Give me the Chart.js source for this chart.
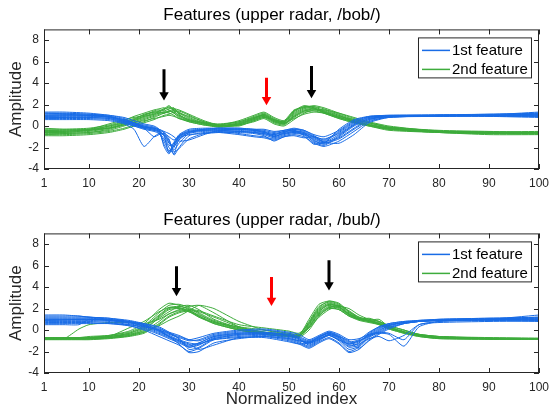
<!DOCTYPE html>
<html>
<head>
<meta charset="utf-8">
<script src="https://cdn.jsdelivr.net/npm/chart.js@4"></script>
<style>
  body { margin: 0; background: #fff; }
  #wrap { position: relative; width: 556px; height: 418px; }
  canvas { position: absolute; left: 0; }
</style>
</head>
<body>
<div id="wrap">
  <canvas id="topChart" width="556" height="200" style="top:0"></canvas>
  <canvas id="bottomChart" width="556" height="218" style="top:200px"></canvas>
</div>
<script>
// axis ticks
const xTicks = [1, 10, 20, 30, 40, 50, 60, 70, 80, 90, 100];
const yTicks = [-4, -2, 0, 2, 4, 6, 8];

// upper radar, /bob/
const xTop = [1, 5, 10, 14, 17, 19, 21, 23, 24, 25, 26, 27, 28, 30, 33, 36, 40, 43, 45, 47, 49, 51, 53, 55, 57, 60, 63, 66, 70, 80, 90, 100];
const blueTop = [
  [1.2, 1.2, 1.1, 0.9, 0.5, 0.2, 0.0, -0.2, -0.4, -0.9, -2.5, -1.8, -0.9, -0.4, -0.3, -0.3, -0.4, -0.5, -0.6, -0.8, -0.6, -0.5, -0.7, -1.3, -1.7, -0.9, 0.1, 0.7, 0.9, 1.0, 1.1, 1.1],
  [1.0, 1.0, 1.0, 0.8, 0.4, 0.1, -0.2, -0.4, -0.6, -1.2, -2.0, -2.6, -1.2, -0.6, -0.4, -0.4, -0.5, -0.6, -0.8, -1.1, -0.8, -0.6, -0.8, -1.5, -1.8, -1.0, 0.0, 0.6, 0.9, 0.95, 1.0, 1.0],
  [0.8, 0.8, 0.8, 0.7, 0.3, 0.0, -0.3, -0.5, -0.7, -1.4, -2.3, -2.0, -1.0, -0.5, -0.3, -0.2, -0.2, -0.3, -0.4, -0.6, -0.4, -0.3, -0.5, -1.0, -1.4, -0.6, 0.3, 0.8, 0.9, 0.9, 0.9, 0.8],
  [1.1, 1.1, 1.0, 0.9, 0.6, 0.3, 0.1, -0.1, -0.3, -0.6, -1.5, -2.2, -1.6, -0.7, -0.5, -0.5, -0.7, -0.9, -1.0, -1.2, -0.9, -0.7, -0.8, -1.2, -1.6, -1.2, -0.3, 0.5, 0.8, 1.0, 1.0, 1.2],
  [0.6, 0.6, 0.6, 0.5, 0.2, -0.3, -1.9, -1.0, -0.7, -0.8, -1.6, -1.9, -1.3, -0.6, -0.4, -0.3, -0.3, -0.4, -0.5, -0.7, -0.5, -0.4, -0.6, -1.0, -1.2, -0.7, 0.2, 0.8, 0.95, 1.0, 0.9, 0.9],
  [0.9, 0.9, 0.9, 0.8, 0.5, 0.2, -0.1, -0.3, -0.5, -1.7, -2.4, -1.5, -0.8, -0.3, -0.2, -0.2, -0.3, -0.4, -0.5, -1.0, -0.6, -0.3, -0.4, -0.9, -1.3, -0.5, 0.4, 0.9, 1.0, 1.05, 1.1, 1.2],
  [1.3, 1.3, 1.2, 1.0, 0.7, 0.3, -0.2, -1.0, -0.8, -0.7, -1.2, -2.7, -2.0, -0.9, -0.6, -0.6, -0.8, -1.0, -1.1, -1.3, -1.0, -0.8, -1.0, -1.6, -1.9, -1.4, -0.5, 0.4, 0.85, 0.95, 1.0, 1.1],
  [0.7, 0.7, 0.7, 0.6, 0.3, 0.0, -0.2, -0.4, -0.5, -0.9, -1.8, -1.6, -0.9, -0.5, -0.4, -0.4, -0.5, -0.6, -0.7, -0.9, -0.7, -0.6, -0.7, -1.1, -1.5, -0.8, 0.1, 0.7, 0.85, 0.9, 0.95, 0.9],
  [1.0, 1.05, 1.0, 0.85, 0.5, 0.2, -0.1, -0.3, -0.5, -0.8, -1.3, -2.4, -2.1, -1.2, -0.7, -0.5, -0.5, -0.6, -0.7, -1.0, -0.7, -0.5, -0.6, -1.4, -1.6, -0.3, 0.6, 0.9, 1.0, 1.0, 1.05, 1.3],
  [0.9, 0.95, 0.95, 0.9, 0.6, 0.3, 0.0, -0.2, -0.3, -0.5, -0.7, -1.0, -1.4, -1.3, -0.8, -0.4, -0.3, -0.4, -0.6, -0.8, -0.5, -0.4, -0.9, -1.7, -1.5, -1.1, -0.2, 0.6, 0.9, 1.0, 1.0, 1.0],
  [1.2, 1.15, 1.1, 1.0, 0.8, 0.5, 0.2, 0.0, -0.3, -1.9, -2.6, -1.7, -1.1, -0.8, -0.7, -0.6, -0.6, -0.7, -0.9, -1.4, -1.0, -0.9, -1.1, -1.0, -1.5, -1.6, -0.8, 0.3, 0.8, 0.95, 1.0, 1.1],
  [0.75, 0.8, 0.8, 0.7, 0.4, 0.1, -0.1, -0.2, -0.4, -0.6, -1.0, -1.3, -1.0, -0.6, -0.3, -0.2, -0.2, -0.3, -0.3, -0.5, -0.4, -0.2, -0.4, -0.8, -1.0, -0.4, 0.5, 0.85, 0.9, 0.95, 1.0, 0.95]
];
const greenTop = [
  [-0.5, -0.5, -0.4, -0.1, 0.3, 0.6, 0.9, 1.2, 1.3, 1.5, 1.8, 1.4, 1.0, 0.6, 0.2, 0.0, 0.3, 0.8, 1.1, 0.6, 0.3, 1.3, 1.8, 1.8, 1.4, 0.9, 0.5, 0.2, -0.2, -0.5, -0.6, -0.6],
  [-0.7, -0.7, -0.6, -0.3, 0.1, 0.4, 0.7, 1.0, 1.2, 1.3, 1.4, 1.2, 0.9, 0.5, 0.2, 0.0, 0.2, 0.6, 0.9, 0.4, 0.2, 1.0, 1.5, 1.6, 1.3, 0.8, 0.4, 0.1, -0.3, -0.6, -0.7, -0.7],
  [-0.3, -0.3, -0.2, 0.1, 0.5, 0.9, 1.2, 1.5, 1.6, 1.7, 1.5, 1.2, 0.8, 0.4, 0.1, -0.1, 0.1, 0.5, 0.8, 0.3, 0.1, 0.8, 1.3, 1.4, 1.2, 0.7, 0.3, 0.0, -0.3, -0.5, -0.55, -0.5],
  [-0.8, -0.8, -0.7, -0.5, -0.2, 0.1, 0.4, 0.8, 1.0, 1.2, 1.3, 1.5, 1.2, 0.7, 0.3, 0.1, 0.4, 0.9, 1.2, 0.7, 0.4, 1.4, 1.9, 1.7, 1.2, 0.7, 0.3, 0.0, -0.4, -0.6, -0.7, -0.7],
  [-0.6, -0.6, -0.4, 0.0, 0.4, 0.7, 1.0, 1.3, 1.4, 1.6, 1.7, 1.6, 1.3, 0.8, 0.3, 0.0, 0.2, 0.7, 1.0, 0.5, 0.3, 1.1, 1.6, 1.8, 1.6, 1.1, 0.6, 0.3, -0.1, -0.4, -0.5, -0.6],
  [-0.4, -0.4, -0.3, 0.0, 0.3, 0.5, 0.8, 1.1, 1.2, 1.3, 1.2, 1.0, 0.7, 0.4, 0.1, 0.0, 0.3, 0.7, 1.0, 0.5, 0.2, 0.9, 1.4, 1.5, 1.3, 0.9, 0.6, 0.3, -0.1, -0.5, -0.6, -0.65],
  [-0.9, -0.9, -0.8, -0.6, -0.3, 0.0, 0.3, 0.6, 0.8, 1.0, 1.1, 1.3, 1.4, 1.0, 0.4, 0.1, 0.5, 1.0, 1.3, 0.8, 0.5, 1.5, 1.7, 1.6, 1.4, 1.0, 0.5, 0.1, -0.3, -0.6, -0.8, -0.8],
  [-0.5, -0.5, -0.3, 0.2, 0.6, 0.8, 1.0, 1.4, 1.5, 1.4, 1.6, 1.7, 1.1, 0.5, 0.2, -0.1, 0.1, 0.6, 0.9, 0.4, 0.2, 0.9, 1.4, 1.6, 1.5, 1.0, 0.4, 0.1, -0.2, -0.5, -0.6, -0.6],
  [-0.6, -0.6, -0.5, -0.2, 0.2, 0.5, 0.9, 1.1, 1.4, 1.6, 1.9, 1.5, 1.2, 0.9, 0.4, 0.1, 0.0, 0.5, 0.8, 0.6, 0.4, 1.2, 1.7, 1.9, 1.7, 1.2, 0.7, 0.3, -0.1, -0.45, -0.55, -0.6],
  [-0.2, -0.3, -0.3, -0.2, 0.1, 0.3, 0.5, 0.7, 0.8, 0.9, 1.0, 0.9, 0.7, 0.5, 0.3, 0.2, 0.4, 0.8, 1.0, 0.5, 0.3, 0.7, 1.1, 1.3, 1.2, 0.8, 0.4, 0.1, -0.2, -0.5, -0.6, -0.6],
  [-0.8, -0.7, -0.6, -0.4, 0.0, 0.3, 0.6, 0.9, 1.1, 1.2, 1.4, 1.6, 1.5, 1.1, 0.5, 0.1, 0.1, 0.4, 0.7, 0.2, 0.0, 0.6, 1.2, 1.5, 1.5, 1.2, 0.8, 0.4, 0.0, -0.5, -0.7, -0.75],
  [-0.4, -0.45, -0.4, -0.2, 0.2, 0.6, 1.1, 1.3, 1.3, 1.2, 1.4, 1.3, 1.0, 0.6, 0.3, 0.0, 0.2, 0.7, 1.1, 0.6, 0.4, 1.4, 1.8, 1.7, 1.3, 0.8, 0.4, 0.1, -0.2, -0.55, -0.65, -0.6]
];

// upper radar, /bub/
const xBottom = [1, 5, 8, 10, 14, 18, 21, 24, 26, 28, 30, 32, 35, 40, 45, 50, 52, 54, 56, 58, 60, 62, 64, 66, 68, 70, 73, 76, 80, 90, 100];
const blueBottom = [
  [1.0, 1.0, 1.0, 1.0, 0.9, 0.6, 0.3, -0.2, -0.6, -1.0, -1.4, -1.2, -0.6, -0.3, -0.3, -0.6, -0.9, -1.3, -0.8, -0.4, -0.8, -1.5, -1.2, -0.4, 0.2, 0.5, 0.7, 0.8, 0.9, 1.0, 1.0],
  [1.3, 1.3, 1.3, 1.2, 1.1, 0.9, 0.6, 0.2, -0.3, -0.8, -1.8, -1.6, -0.8, -0.5, -0.4, -0.8, -1.1, -1.5, -1.0, -0.5, -1.0, -1.8, -1.5, -0.6, 0.0, 0.4, 0.7, 0.9, 1.0, 1.1, 1.1],
  [0.5, 0.5, 0.5, 1.0, 0.9, 0.7, 0.4, 0.0, -0.4, -0.7, -1.0, -0.9, -0.4, -0.1, 0.0, -0.3, -0.6, -1.0, -0.6, -0.2, -0.5, -1.1, -0.9, -0.2, 0.3, 0.6, 0.8, 0.9, 0.95, 1.0, 0.9],
  [0.8, 0.8, 0.8, 0.8, 0.7, 0.4, 0.0, -0.6, -1.0, -1.4, -2.0, -1.7, -0.9, -0.6, -0.5, -0.9, -1.2, -1.6, -1.1, -0.7, -1.2, -2.0, -1.6, -0.7, -0.2, 0.3, 0.6, 0.8, 0.9, 1.0, 1.0],
  [1.1, 1.1, 1.1, 1.1, 1.0, 0.8, 0.5, 0.1, -0.2, -0.5, -0.9, -1.0, -0.5, -0.2, -0.2, -0.4, -0.7, -1.1, -0.7, -0.3, -0.6, -1.2, -1.0, -0.5, -0.3, -0.4, -1.5, 0.3, 0.8, 1.0, 1.2],
  [0.7, 0.7, 0.7, 0.7, 0.6, 0.4, 0.1, -0.4, -0.8, -1.2, -1.6, -1.4, -0.7, -0.4, -0.4, -0.7, -1.0, -1.2, -0.6, -0.3, -0.7, -1.4, -1.3, -0.8, -0.6, -1.0, -0.5, 0.5, 0.8, 0.9, 0.9],
  [1.2, 1.2, 1.2, 1.2, 1.0, 0.7, 0.4, -0.1, -0.5, -0.9, -1.2, -1.3, -0.8, -0.4, -0.3, -0.5, -0.8, -1.2, -0.9, -0.5, -0.9, -1.6, -1.4, -0.5, 0.1, 0.5, 0.7, 0.8, 0.9, 1.0, 1.4],
  [0.9, 0.9, 0.9, 0.9, 0.8, 0.5, 0.2, -0.3, -0.7, -1.1, -1.5, -1.2, -0.6, -0.3, -0.2, -0.5, -0.8, -1.4, -0.9, -0.4, -0.7, -1.3, -1.1, -0.3, 0.3, 0.6, 0.8, 0.85, 0.9, 0.9, 0.8],
  [1.4, 1.4, 1.3, 1.2, 1.1, 0.8, 0.5, 0.0, -0.6, -1.3, -2.1, -2.0, -1.2, -0.8, -0.6, -1.0, -1.3, -1.7, -1.2, -0.8, -1.3, -2.1, -1.8, -0.9, -0.3, 0.2, 0.6, 0.8, 1.0, 1.1, 1.2],
  [0.6, 0.6, 0.6, 0.6, 0.6, 0.5, 0.3, 0.0, -0.3, -0.6, -0.9, -0.7, -0.3, 0.0, 0.1, -0.2, -0.4, -0.9, -0.5, -0.1, -0.4, -0.9, -0.8, -0.4, -0.2, -0.3, -0.9, 0.5, 0.7, 0.8, 0.85],
  [1.0, 1.0, 1.0, 1.0, 0.9, 0.7, 0.4, -0.1, -0.6, -1.0, -1.3, -1.8, -1.4, -0.7, -0.6, -0.8, -1.0, -1.1, -0.7, -0.2, -0.6, -1.0, -1.7, -1.0, -0.4, 0.1, 0.6, 0.8, 0.9, 1.0, 1.0],
  [0.9, 0.95, 1.0, 1.0, 0.95, 0.8, 0.6, 0.3, -0.2, -0.8, -1.6, -1.3, -0.9, -0.7, -0.7, -1.1, -1.3, -1.2, -0.8, -0.5, -0.9, -1.3, -1.0, -0.6, -0.1, 0.4, 0.7, 0.8, 0.9, 1.0, 1.1]
];
const greenBottom = [
  [-0.8, -0.8, -0.8, -0.8, -0.7, -0.5, 0.0, 1.2, 1.9, 2.0, 1.8, 1.4, 0.8, 0.1, -0.3, -0.5, -0.6, 0.5, 1.8, 2.3, 2.0, 1.4, 1.0, 0.8, 0.6, 0.2, -0.2, -0.5, -0.7, -0.8, -0.8],
  [-0.7, -0.7, -0.7, -0.6, -0.5, -0.2, 0.4, 1.6, 2.3, 2.4, 2.1, 1.6, 0.9, 0.2, -0.2, -0.4, -0.5, 0.8, 2.2, 2.6, 2.3, 1.6, 1.1, 0.9, 0.7, 0.3, -0.1, -0.4, -0.6, -0.7, -0.75],
  [-0.9, -0.9, -0.9, -0.9, -0.8, -0.6, -0.3, 0.5, 1.2, 1.6, 1.8, 1.7, 1.2, 0.3, -0.2, -0.5, -0.6, 0.2, 1.4, 2.0, 1.9, 1.3, 0.9, 0.7, 0.5, 0.1, -0.3, -0.6, -0.8, -0.85, -0.85],
  [-0.8, -0.8, 0.1, 0.5, 0.7, 0.7, 0.6, 1.0, 1.5, 1.8, 1.7, 1.3, 0.7, 0.0, -0.3, -0.5, -0.6, 0.3, 1.6, 2.2, 2.1, 1.5, 1.0, 0.9, 1.0, 0.3, -0.2, -0.5, -0.7, -0.8, -0.8],
  [-0.75, -0.75, -0.75, -0.7, -0.6, -0.3, 0.3, 1.4, 2.1, 2.2, 2.0, 1.5, 0.8, 0.1, -0.3, -0.5, -0.5, 1.0, 2.4, 2.7, 2.4, 1.7, 1.2, 0.9, 0.6, 0.2, -0.2, -0.5, -0.7, -0.8, -0.8],
  [-0.85, -0.85, -0.85, -0.8, -0.7, -0.4, -0.1, 0.8, 1.5, 1.9, 2.2, 2.3, 1.6, 0.3, -0.2, -0.5, -0.6, 0.4, 1.7, 2.4, 2.2, 1.5, 1.0, 0.8, 0.5, 0.1, -0.3, -0.6, -0.8, -0.85, -0.85],
  [-0.8, -0.8, -0.8, -0.8, -0.6, 0.2, 0.8, 1.7, 2.1, 2.0, 1.7, 1.2, 0.6, 0.0, -0.4, -0.6, -0.7, 0.0, 1.3, 2.1, 2.3, 1.8, 1.2, 1.0, 0.8, 0.4, 0.0, -0.4, -0.6, -0.75, -0.8],
  [-0.7, -0.7, -0.7, -0.7, -0.6, -0.4, 0.1, 1.1, 1.7, 2.2, 2.3, 1.9, 1.0, 0.2, -0.3, -0.5, -0.6, 0.6, 2.0, 2.5, 2.2, 1.4, 1.0, 0.8, 0.6, 0.2, -0.2, -0.5, -0.7, -0.8, -0.8],
  [-0.8, -0.8, -0.8, -0.8, -0.7, -0.5, -0.2, 0.4, 0.9, 1.3, 1.8, 2.3, 2.0, 0.8, 0.0, -0.4, -0.5, 0.2, 1.2, 1.9, 2.2, 2.0, 1.4, 1.0, 0.8, 0.4, 0.0, -0.4, -0.6, -0.8, -0.8],
  [-0.75, -0.75, -0.75, -0.7, -0.5, -0.1, 0.6, 1.9, 2.5, 2.3, 1.9, 1.3, 0.6, 0.0, -0.4, -0.6, -0.6, 0.3, 1.5, 2.1, 1.9, 1.3, 1.0, 1.1, 0.8, 0.3, -0.2, -0.5, -0.7, -0.8, -0.8],
  [-0.85, -0.85, -0.85, -0.85, -0.75, -0.55, -0.2, 0.6, 1.3, 1.7, 1.9, 1.8, 1.3, 0.5, 0.2, -0.1, -0.3, 0.6, 1.9, 2.4, 2.1, 1.5, 1.1, 0.9, 0.6, 0.2, -0.2, -0.55, -0.75, -0.85, -0.85],
  [-0.7, -0.7, -0.7, -0.7, -0.6, -0.3, 0.2, 1.3, 2.0, 2.1, 1.8, 1.2, 0.7, 0.3, 0.0, -0.3, -0.4, 0.7, 2.1, 2.7, 2.5, 1.7, 1.1, 0.8, 0.6, 0.2, -0.2, -0.45, -0.65, -0.75, -0.8]
];

// arrows: x position, start and end (head centre) amplitude
const arrowsTopX = [25, 45.5, 54.5];
const arrowsTopFrom = [5.3, 4.5, 5.6];
const arrowsTopTo = [2.9, 2.45, 3.1];
const arrowsBottomX = [27.5, 46.5, 58];
const arrowsBottomFrom = [5.95, 4.95, 6.5];
const arrowsBottomTo = [3.65, 2.75, 4.2];
const arrowColors = ['#000000', '#ff0000', '#000000'];

const legendLabels = ['1st feature', '2nd feature'];
const BLUE = 'rgb(25,108,230)';
const GREEN = 'rgb(62,172,60)';
const AXIS = '#262626';
const FONT = '"Liberation Sans", Arial, sans-serif';

function curveSets(xs, rows, color) {
  return rows.map(function (row) {
    return {
      data: row.map(function (y, i) { return { x: xs[i], y: y }; }),
      borderColor: color,
      borderWidth: 1,
      pointRadius: 0,
      tension: 0.2,
      fill: false
    };
  });
}

function arrowSets(xs, from, to) {
  return xs.map(function (x, i) {
    return {
      data: [{ x: x, y: from[i] }, { x: x, y: to[i] }],
      borderColor: arrowColors[i],
      backgroundColor: arrowColors[i],
      borderWidth: 3,
      pointStyle: 'triangle',
      pointRadius: [0, 5.5],
      pointBorderWidth: 0,
      rotation: 180,
      fill: false
    };
  });
}

// MATLAB-like box with inward ticks, plus legend box
const frame = {
  id: 'frame',
  afterDatasetsDraw(chart) {
    const { ctx, chartArea: a, scales } = chart;
    ctx.save();
    ctx.strokeStyle = AXIS;
    ctx.lineWidth = 1;
    ctx.strokeRect(a.left + 0.5, a.top + 0.5, a.right - a.left - 1, a.bottom - a.top - 1);
    ctx.beginPath();
    xTicks.forEach(function (v) {
      const px = Math.round(scales.x.getPixelForValue(v)) + 0.5;
      ctx.moveTo(px, a.bottom); ctx.lineTo(px, a.bottom - 5);
      ctx.moveTo(px, a.top); ctx.lineTo(px, a.top + 5);
    });
    yTicks.forEach(function (v) {
      const py = Math.round(scales.y.getPixelForValue(v)) + 0.5;
      ctx.moveTo(a.left, py); ctx.lineTo(a.left + 5, py);
      ctx.moveTo(a.right, py); ctx.lineTo(a.right - 5, py);
    });
    ctx.stroke();

    // legend
    const w = 113, h = 40;
    const lx = a.right - 8 - w, ly = a.top + 8;
    ctx.fillStyle = '#fff';
    ctx.fillRect(lx, ly, w, h);
    ctx.strokeStyle = AXIS;
    ctx.strokeRect(lx + 0.5, ly + 0.5, w, h);
    ctx.font = '15px ' + FONT;
    ctx.textBaseline = 'middle';
    [BLUE, GREEN].forEach(function (c, i) {
      const yy = ly + 13 + i * 19;
      ctx.strokeStyle = c;
      ctx.lineWidth = 1.5;
      ctx.beginPath();
      ctx.moveTo(lx + 4, yy); ctx.lineTo(lx + 32, yy);
      ctx.stroke();
      ctx.fillStyle = '#000';
      ctx.fillText(legendLabels[i], lx + 34, yy);
    });
    ctx.restore();
  }
};

function makeOptions(title, titlePad, showXTitle, xHeight) {
  return {
    responsive: false,
    animation: false,
    devicePixelRatio: 1,
    layout: { padding: { left: 0, right: 12, top: 0, bottom: 0 } },
    plugins: {
      legend: { display: false },
      tooltip: { enabled: false },
      title: {
        display: true,
        text: title,
        color: '#000',
        font: { size: 17, family: FONT, weight: 'normal' },
        padding: titlePad
      }
    },
    scales: {
      x: {
        type: 'linear',
        min: 1,
        max: 100,
        afterBuildTicks: function (s) { s.ticks = xTicks.map(function (v) { return { value: v }; }); },
        afterFit: function (s) { s.height = xHeight; },
        grid: { display: false, drawTicks: false },
        border: { display: false },
        ticks: { padding: 7, color: AXIS, maxRotation: 0, autoSkip: false, font: { size: 12, family: FONT } },
        title: {
          display: showXTitle,
          text: 'Normalized index',
          color: AXIS,
          padding: { top: 0, bottom: 8 },
          font: { size: 17, family: FONT }
        }
      },
      y: {
        type: 'linear',
        min: -4,
        max: 9,
        afterBuildTicks: function (s) { s.ticks = yTicks.map(function (v) { return { value: v }; }); },
        afterFit: function (s) { s.width = 44; },
        grid: { display: false, drawTicks: false },
        border: { display: false },
        ticks: { padding: 5, color: AXIS, autoSkip: false, font: { size: 12, family: FONT } },
        title: {
          display: true,
          text: 'Amplitude',
          color: AXIS,
          padding: { top: 6, bottom: 0 },
          font: { size: 17, family: FONT }
        }
      }
    }
  };
}

window.onload = function () {
  new Chart(document.getElementById('topChart').getContext('2d'), {
    type: 'line',
    data: {
      datasets: curveSets(xTop, blueTop, BLUE)
        .concat(curveSets(xTop, greenTop, GREEN))
        .concat(arrowSets(arrowsTopX, arrowsTopFrom, arrowsTopTo))
    },
    options: makeOptions('Features (upper radar, /bob/)', { top: 5, bottom: 4 }, false, 31),
    plugins: [frame]
  });

  new Chart(document.getElementById('bottomChart').getContext('2d'), {
    type: 'line',
    data: {
      datasets: curveSets(xBottom, blueBottom, BLUE)
        .concat(curveSets(xBottom, greenBottom, GREEN))
        .concat(arrowSets(arrowsBottomX, arrowsBottomFrom, arrowsBottomTo))
    },
    options: makeOptions('Features (upper radar, /bub/)', { top: 10, bottom: 3 }, true, 45),
    plugins: [frame]
  });
};
</script>
</body>
</html>
